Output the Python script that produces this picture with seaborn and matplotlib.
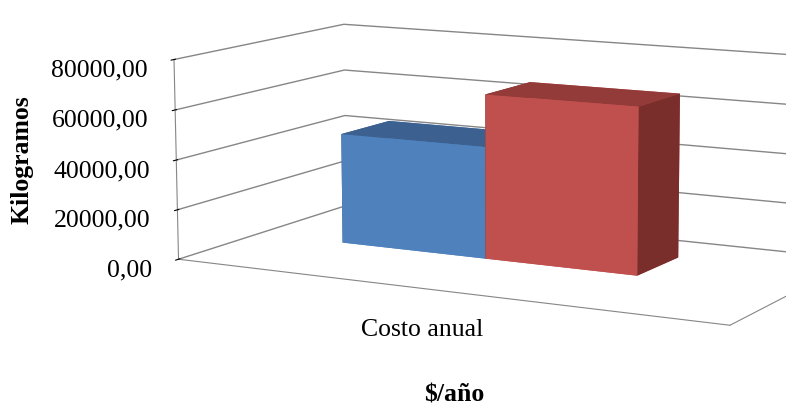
import numpy as np
import pandas as pd
import seaborn as sns
import matplotlib
matplotlib.use('Agg')
import matplotlib.pyplot as plt
from matplotlib.ticker import FuncFormatter

# datos
categoria = ['Costo anual']
series = ['Serie 1', 'Serie 2']
valores = [45000, 66000]
ticks_z = [0, 20000, 40000, 60000, 80000]

# colores (frente, arriba, lado)
col_frente = ['#4F81BD', '#C0504D']
col_arriba = ['#3C6190', '#923B39']
col_lado = ['#35587F', '#7A2E2C']

df = pd.DataFrame({'serie': series, 'valor': valores})

sns.set_style('white')
plt.rcParams['font.family'] = ['Liberation Serif', 'DejaVu Serif']
plt.rcParams['text.color'] = 'black'
plt.rcParams['xtick.color'] = 'black'
plt.rcParams['ytick.color'] = 'black'

fig = plt.figure(figsize=(7.86, 4.12), dpi=100)
ax = fig.add_axes([0.152, 0.098, 1.0, 1.0], projection='3d')
ax.set_proj_type('persp', focal_length=1.2)
ax.view_init(elev=10, azim=-62)
ax.set_box_aspect((3.2, 1.7, 1.075), zoom=1.68)

ancho = 0.28
prof = 0.3
n = len(df)
xs = 0.45 - ancho * n / 2 + ancho * np.arange(n)
colores = []
for i in range(n):
    # orden de caras: -z, +z, -y, +y, -x, +x
    colores += [col_frente[i], col_arriba[i], col_frente[i],
                col_frente[i], col_lado[i], col_lado[i]]
ax.bar3d(xs, np.full(n, 0.46), np.zeros(n), ancho, prof, df['valor'].values,
         color=colores, shade=False, edgecolor='none', linewidth=0)

ax.set_xlim(0, 1)
ax.set_ylim(0, 1)
ax.set_zlim(0, 80000)
ax.set_xticks([0.5])
ax.set_xticklabels(categoria, fontsize=18.5)
ax.set_yticks([])
ax.set_zticks(ticks_z)
ax.zaxis.set_major_formatter(FuncFormatter(lambda v, p: f'{v:.2f}'.replace('.', ',')))
ax.zaxis.set_ticks_position('lower')
ax.tick_params(axis='z', labelsize=18.5, colors='black', pad=-2)
ax.tick_params(axis='x', colors='black', pad=8)
for t in ax.get_zticklabels():
    t.set_ha('right')
ax.xaxis._axinfo['tick']['inward_factor'] = 0
ax.xaxis._axinfo['tick']['outward_factor'] = 0

for eje in (ax.xaxis, ax.yaxis, ax.zaxis):
    eje.set_pane_color((1, 1, 1, 0))
    eje.pane.set_edgecolor('#868686')
    eje.line.set_color('#868686')
ax.xaxis._axinfo['grid']['linewidth'] = 0
ax.yaxis._axinfo['grid']['linewidth'] = 0
ax.zaxis._axinfo['grid']['color'] = '#868686'
ax.zaxis._axinfo['grid']['linewidth'] = 1.0

fig.text(0.028, 0.612, 'Kilogramos', rotation=90, fontsize=18.5, fontweight='bold',
         ha='center', va='center')
fig.text(0.578, 0.041, '$/año', fontsize=18.5, fontweight='bold', ha='center', va='center')

fig.savefig('out.png', dpi=100)
